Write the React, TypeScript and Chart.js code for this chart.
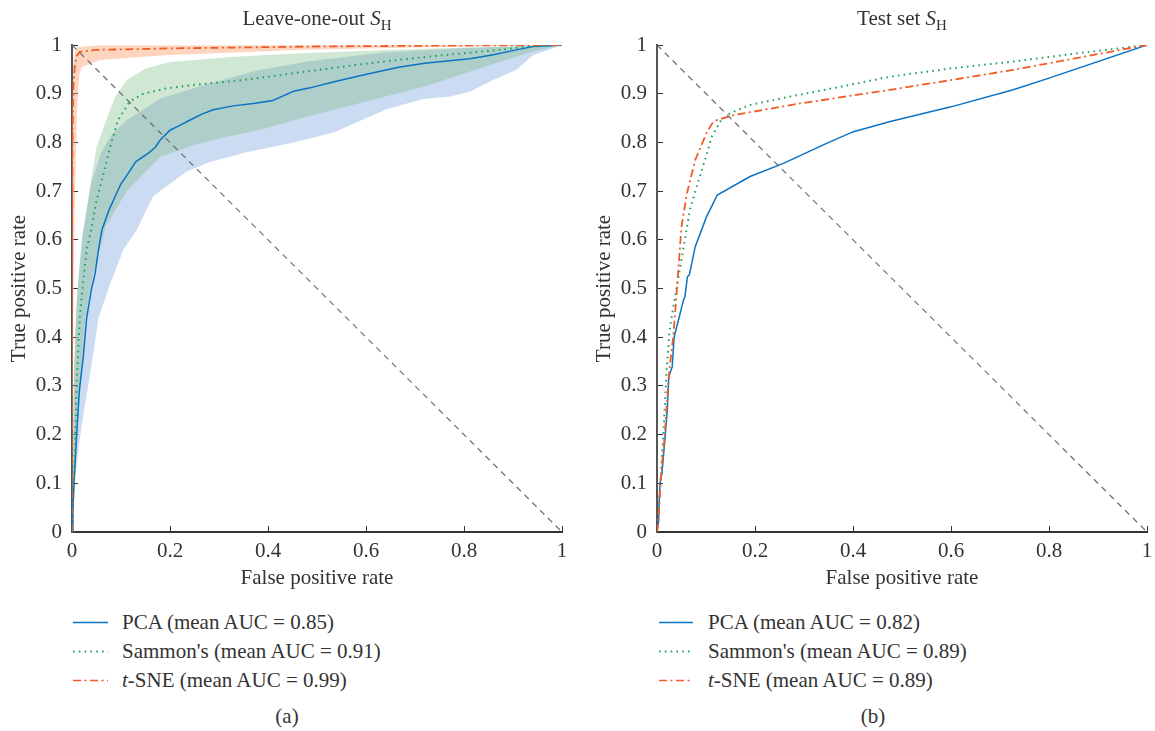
import React, { useEffect, useRef } from 'react';
import { Chart, registerables } from 'chart.js';

Chart.register(...registerables);

const FONT = '"Liberation Serif", "DejaVu Serif", serif';
const TEXT = '#333333';

// Axis ticks
const xTickValues = [0, 0.2, 0.4, 0.6, 0.8, 1];
const yTickValues = [0, 0.1, 0.2, 0.3, 0.4, 0.5, 0.6, 0.7, 0.8, 0.9, 1];

// Diagonal reference
const diagX = [0, 1];
const diagY = [1, 0];

// ---------- (a) Leave-one-out ----------
const pcaLooX = [0, 0.002, 0.004, 0.0095, 0.015, 0.023, 0.03, 0.04, 0.047, 0.054, 0.061, 0.075, 0.088, 0.1, 0.115, 0.13, 0.156, 0.17, 0.18, 0.2, 0.22, 0.241, 0.265, 0.288, 0.329, 0.37, 0.41, 0.43, 0.452, 0.486, 0.533, 0.601, 0.669, 0.724, 0.812, 0.86, 0.907, 0.941, 1];
const pcaLooY = [0, 0.05, 0.1, 0.2, 0.29, 0.36, 0.44, 0.5, 0.53, 0.579, 0.62, 0.66, 0.689, 0.715, 0.737, 0.76, 0.778, 0.79, 0.805, 0.825, 0.835, 0.846, 0.858, 0.867, 0.875, 0.88, 0.886, 0.895, 0.905, 0.912, 0.924, 0.94, 0.955, 0.963, 0.972, 0.98, 0.99, 0.997, 1];

const sammonLooX = [0, 0.003, 0.006, 0.0095, 0.016, 0.023, 0.03, 0.04, 0.05, 0.061, 0.078, 0.094, 0.118, 0.146, 0.193, 0.248, 0.35, 0.452, 0.601, 0.737, 0.873, 0.941, 1];
const sammonLooY = [0, 0.08, 0.168, 0.305, 0.442, 0.517, 0.58, 0.625, 0.68, 0.723, 0.791, 0.846, 0.884, 0.9, 0.911, 0.918, 0.928, 0.942, 0.962, 0.977, 0.99, 0.998, 1];

const tsneLooX = [0, 0, 0.001, 0.003, 0.006, 0.01, 0.016, 0.05, 0.2, 0.5, 0.8, 1];
const tsneLooY = [0, 0.5, 0.8, 0.92, 0.96, 0.978, 0.986, 0.99, 0.993, 0.997, 0.999, 1];

// Bands (mean ± spread)
const pcaLowX = [0, 0.006, 0.013, 0.023, 0.033, 0.044, 0.054, 0.078, 0.105, 0.132, 0.166, 0.234, 0.282, 0.356, 0.452, 0.533, 0.601, 0.642, 0.717, 0.771, 0.812, 0.853, 0.907, 0.941, 1];
const pcaLowY = [0, 0.1, 0.17, 0.24, 0.3, 0.37, 0.44, 0.51, 0.58, 0.62, 0.69, 0.74, 0.76, 0.78, 0.8, 0.82, 0.85, 0.868, 0.889, 0.894, 0.904, 0.925, 0.949, 0.979, 1];
const pcaUpX = [0, 0.005, 0.01, 0.02, 0.04, 0.06, 0.08, 0.112, 0.18, 0.28, 0.38, 0.48, 0.63, 0.8, 1];
const pcaUpY = [0, 0.35, 0.48, 0.6, 0.72, 0.78, 0.815, 0.846, 0.89, 0.921, 0.948, 0.966, 0.984, 0.994, 1];

const sammonLowX = [0, 0.005, 0.01, 0.016, 0.027, 0.043, 0.07, 0.112, 0.18, 0.25, 0.32, 0.38, 0.47, 0.6, 0.72, 0.84, 0.94, 1];
const sammonLowY = [0, 0.1, 0.17, 0.3, 0.44, 0.53, 0.63, 0.7, 0.77, 0.795, 0.812, 0.825, 0.85, 0.884, 0.915, 0.955, 0.986, 1];
const sammonUpX = [0, 0.003, 0.008, 0.013, 0.023, 0.037, 0.05, 0.064, 0.088, 0.112, 0.15, 0.2, 0.33, 0.47, 0.7, 1];
const sammonUpY = [0, 0.3, 0.45, 0.52, 0.62, 0.71, 0.79, 0.83, 0.894, 0.928, 0.952, 0.965, 0.976, 0.983, 0.992, 1];

const tsneLowX = [0, 0.002, 0.005, 0.01, 0.015, 0.02, 0.057, 0.19, 0.47, 0.8, 1];
const tsneLowY = [0, 0.35, 0.65, 0.86, 0.94, 0.955, 0.969, 0.979, 0.99, 0.997, 1];
const tsneUpX = [0, 0.003, 0.008, 0.05, 1];
const tsneUpY = [0.85, 0.97, 0.995, 0.999, 1];

// ---------- (b) Test set ----------
const pcaTestX = [0, 0.003, 0.006, 0.01, 0.016, 0.021, 0.024, 0.031, 0.035, 0.045, 0.054, 0.057, 0.062, 0.066, 0.078, 0.101, 0.123, 0.19, 0.258, 0.346, 0.401, 0.476, 0.6, 0.727, 0.8, 1];
const pcaTestY = [0, 0.02, 0.1, 0.12, 0.189, 0.25, 0.319, 0.339, 0.401, 0.44, 0.476, 0.483, 0.524, 0.528, 0.586, 0.647, 0.692, 0.73, 0.757, 0.798, 0.822, 0.843, 0.873, 0.908, 0.932, 1];

const sammonTestX = [0, 0.007, 0.013, 0.016, 0.02, 0.023, 0.025, 0.033, 0.05, 0.067, 0.081, 0.098, 0.112, 0.129, 0.149, 0.19, 0.271, 0.373, 0.476, 0.6, 0.727, 0.85, 1];
const sammonTestY = [0, 0.1, 0.2, 0.26, 0.34, 0.374, 0.41, 0.46, 0.559, 0.661, 0.709, 0.764, 0.812, 0.843, 0.86, 0.877, 0.894, 0.914, 0.935, 0.952, 0.966, 0.982, 1];

const tsneTestX = [0, 0.003, 0.007, 0.016, 0.02, 0.025, 0.033, 0.039, 0.045, 0.05, 0.061, 0.078, 0.101, 0.112, 0.122, 0.156, 0.292, 0.476, 0.6, 0.727, 0.85, 1];
const tsneTestY = [0, 0.02, 0.1, 0.2, 0.26, 0.33, 0.4, 0.476, 0.559, 0.627, 0.695, 0.764, 0.819, 0.838, 0.846, 0.856, 0.88, 0.908, 0.928, 0.949, 0.972, 1];

// Legend labels
const legendA = ['PCA (mean AUC = 0.85)', "Sammon's (mean AUC = 0.91)", 't-SNE (mean AUC = 0.99)'];
const legendB = ['PCA (mean AUC = 0.82)', "Sammon's (mean AUC = 0.89)", 't-SNE (mean AUC = 0.89)'];

const BLUE = '#0b72c4';
const GREEN = '#1fa35c';
const ORANGE = '#f15a29';
const BLUE_BAND = 'rgba(140,175,225,0.45)';
const GREEN_BAND = 'rgba(120,185,130,0.35)';
const ORANGE_BAND = 'rgba(250,160,110,0.45)';

const zip = (xs: number[], ys: number[]) => xs.map((x, i) => ({ x, y: ys[i] }));

const lineDs = (data: any, color: string, dash: number[], width: number, order: number) => ({
  data,
  borderColor: color,
  borderWidth: width,
  borderDash: dash,
  borderCapStyle: 'butt',
  pointRadius: 0,
  fill: false,
  order,
  tension: 0,
});

const bandPair = (lo: any, up: any, color: string, order: number) => [
  { data: lo, borderWidth: 0, borderColor: 'rgba(0,0,0,0)', pointRadius: 0, fill: false, order },
  { data: up, borderWidth: 0, borderColor: 'rgba(0,0,0,0)', backgroundColor: color, pointRadius: 0, fill: '-1', order },
];

function buildOptions(padRight: number): any {
  const font = { family: FONT, size: 21 };
  return {
    responsive: false,
    animation: false,
    events: [],
    layout: { padding: { top: 45, right: padRight, bottom: 0, left: 0 } },
    plugins: { legend: { display: false }, tooltip: { enabled: false }, title: { display: false } },
    scales: {
      x: {
        type: 'linear',
        min: 0,
        max: 1,
        afterFit: (s: any) => { s.height = 68; s.paddingLeft = 0; s.paddingRight = 0; },
        afterBuildTicks: (s: any) => { s.ticks = xTickValues.map((v) => ({ value: v })); },
        ticks: {
          autoSkip: false,
          maxRotation: 0,
          padding: 13,
          color: TEXT,
          font,
          callback: (v: any) => String(+Number(v).toFixed(1)),
        },
        grid: { drawOnChartArea: false, drawTicks: true, tickLength: -6, color: '#333', lineWidth: 1 },
        border: { display: true, color: '#333', width: 2 },
        title: { display: true, text: 'False positive rate', color: TEXT, font, padding: { top: 0, bottom: 9 } },
      },
      y: {
        type: 'linear',
        min: 0,
        max: 1,
        afterFit: (s: any) => { s.width = 72; s.paddingTop = 0; s.paddingBottom = 0; },
        afterBuildTicks: (s: any) => { s.ticks = yTickValues.map((v) => ({ value: v })); },
        ticks: {
          autoSkip: false,
          padding: 16,
          color: TEXT,
          font,
          callback: (v: any) => String(+Number(v).toFixed(1)),
        },
        grid: { drawOnChartArea: false, drawTicks: true, tickLength: -6, color: '#333', lineWidth: 1 },
        border: { display: true, color: '#555', width: 2 },
        title: { display: true, text: 'True positive rate', color: TEXT, font, padding: { top: 7, bottom: 0 } },
      },
    },
  };
}

function useChart(ref: React.RefObject<HTMLCanvasElement>, datasets: any[], padRight: number) {
  useEffect(() => {
    if (!ref.current) return;
    const chart = new Chart(ref.current, {
      type: 'line',
      data: { datasets },
      options: buildOptions(padRight),
    } as any);
    return () => chart.destroy();
  }, []);
}

function LegendBlock({ left, sampleW, gap, labels }: { left: number; sampleW: number; gap: number; labels: string[] }) {
  const styles = [
    { color: BLUE, dash: '', w: 1.6 },
    { color: GREEN, dash: '1.6 4.2', w: 1.8 },
    { color: ORANGE, dash: '8 3.5 2 3.5', w: 1.6 },
  ];
  return (
    <>
      {labels.map((lab, i) => {
        const isT = lab.startsWith('t-');
        return (
          <div
            key={i}
            style={{ position: 'absolute', left, top: 608 + i * 29, height: 29, display: 'flex', alignItems: 'center', whiteSpace: 'nowrap' }}
          >
            <svg width={sampleW} height={29} style={{ display: 'block' }}>
              <line x1={0} y1={14.5} x2={sampleW} y2={14.5} stroke={styles[i].color} strokeWidth={styles[i].w} strokeDasharray={styles[i].dash || undefined} />
            </svg>
            <span style={{ marginLeft: gap, fontFamily: FONT, fontSize: 21, color: TEXT, lineHeight: '29px' }}>
              {isT ? (<><i>t</i>{lab.slice(1)}</>) : lab}
            </span>
          </div>
        );
      })}
    </>
  );
}

export default function App() {
  const refA = useRef<HTMLCanvasElement>(null);
  const refB = useRef<HTMLCanvasElement>(null);

  const datasetsA = [
    lineDs(zip(tsneLooX, tsneLooY), ORANGE, [8, 3.5, 2, 3.5], 1.8, 0),
    lineDs(zip(sammonLooX, sammonLooY), GREEN, [1.6, 4.2], 2, 0),
    lineDs(zip(pcaLooX, pcaLooY), BLUE, [], 1.5, 0),
    lineDs(zip(diagX, diagY), '#707070', [6, 5], 1.2, 1),
    ...bandPair(zip(tsneLowX, tsneLowY), zip(tsneUpX, tsneUpY), ORANGE_BAND, 2),
    ...bandPair(zip(sammonLowX, sammonLowY), zip(sammonUpX, sammonUpY), GREEN_BAND, 3),
    ...bandPair(zip(pcaLowX, pcaLowY), zip(pcaUpX, pcaUpY), BLUE_BAND, 4),
  ];
  const datasetsB = [
    lineDs(zip(tsneTestX, tsneTestY), ORANGE, [8, 3.5, 2, 3.5], 1.8, 0),
    lineDs(zip(sammonTestX, sammonTestY), GREEN, [1.6, 4.2], 2, 0),
    lineDs(zip(pcaTestX, pcaTestY), BLUE, [], 1.5, 0),
    lineDs(zip(diagX, diagY), '#707070', [6, 5], 1.2, 1),
  ];

  useChart(refA, datasetsA, 23);
  useChart(refB, datasetsB, 8);

  const titleStyle: React.CSSProperties = {
    position: 'absolute', top: 4, height: 28, lineHeight: '28px', textAlign: 'center',
    fontFamily: FONT, fontSize: 21, color: TEXT, whiteSpace: 'nowrap',
  };
  const sub = (<span style={{ fontSize: 15, position: 'relative', top: 5 }}>H</span>);

  return (
    <div style={{ position: 'absolute', left: 0, top: 0, width: 1155, height: 731, background: '#fff', overflow: 'hidden' }}>
      <canvas ref={refA} width={585} height={600} style={{ position: 'absolute', left: 0, top: 0, width: 585, height: 600 }} />
      <canvas ref={refB} width={570} height={600} style={{ position: 'absolute', left: 585, top: 0, width: 570, height: 600 }} />
      <div style={{ ...titleStyle, left: 117, width: 400 }}>Leave-one-out <i>S</i>{sub}</div>
      <div style={{ ...titleStyle, left: 702, width: 400 }}>Test set <i>S</i>{sub}</div>
      <LegendBlock left={73} sampleW={35} gap={14} labels={legendA} />
      <LegendBlock left={659} sampleW={34} gap={15} labels={legendB} />
      <div style={{ position: 'absolute', left: 237, top: 703, width: 100, textAlign: 'center', fontFamily: FONT, fontSize: 21, color: TEXT, lineHeight: '26px' }}>(a)</div>
      <div style={{ position: 'absolute', left: 823, top: 703, width: 100, textAlign: 'center', fontFamily: FONT, fontSize: 21, color: TEXT, lineHeight: '26px' }}>(b)</div>
    </div>
  );
}
